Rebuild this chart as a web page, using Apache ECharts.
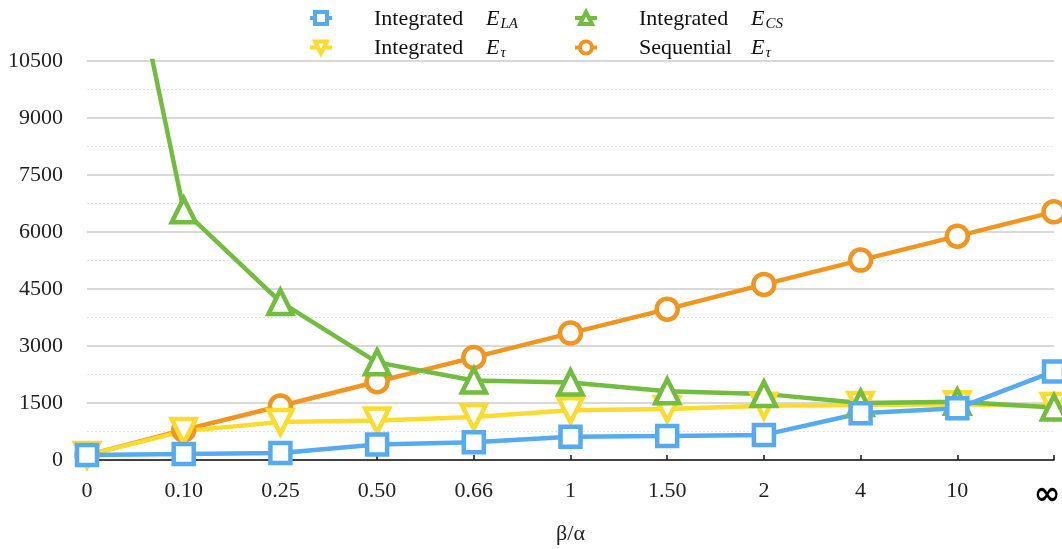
<!DOCTYPE html>
<html>
<head>
<meta charset="utf-8">
<script src="https://cdn.jsdelivr.net/npm/echarts@6/dist/echarts.min.js"></script>
<style>
html,body{margin:0;padding:0;background:#fff;}
#chart{width:1062px;height:549px;}
</style>
</head>
<body>
<div id="chart"></div>
<script>
const categories = ['0', '0.10', '0.25', '0.50', '0.66', '1', '1.50', '2', '4', '10', '∞'];
const yTicks = [0, 1500, 3000, 4500, 6000, 7500, 9000, 10500];
const seqTau = [130, 790, 1420, 2060, 2700, 3340, 3970, 4620, 5260, 5890, 6530];
const intTau = [130, 760, 1000, 1040, 1130, 1310, 1340, 1430, 1450, 1470, 1420];
const intCS  = [18800, 6570, 4160, 2570, 2090, 2040, 1810, 1740, 1500, 1530, 1380];
const intLA  = [130, 160, 185, 410, 470, 610, 630, 660, 1230, 1360, 2330];

const names = {
  la: 'Integrated E_LA',
  tau: 'Integrated E_τ',
  cs: 'Integrated E_CS',
  seq: 'Sequential E_τ'
};
const labelRich = {
  la: '{sp|}{t|Integrated}{e|E}{s|LA}',
  tau: '{sp|}{t|Integrated}{e|E}{s|τ}',
  cs: '{sp|}{t|Integrated}{e|E}{s|CS}',
  seq: '{sp|}{t|Sequential}{e|E}{s|τ}'
};
const nameToKey = {};
Object.keys(names).forEach(k => nameToKey[names[k]] = k);

const serif = '"Liberation Serif", "DejaVu Serif", serif';
const colors = { la: '#55aaf2', tau: '#fbdc2e', cs: '#72bd3e', seq: '#f0951f' };

const rich = {
  sp: { width: 37 },
  t: { width: 112, fontFamily: serif, fontSize: 22, color: '#111' },
  e: { fontFamily: serif, fontSize: 22, fontStyle: 'italic', color: '#111' },
  s: { fontFamily: serif, fontSize: 15, fontStyle: 'italic', color: '#111', padding: [10, 0, 0, 1] }
};

function mkSeries(key, data, symbol, rotate, size) {
  return {
    name: names[key],
    type: 'line',
    data: data,
    symbol: symbol,
    symbolRotate: rotate,
    symbolSize: size,
    clip: true,
    lineStyle: { color: colors[key], width: 4.5 },
    itemStyle: { color: '#fff', borderColor: colors[key], borderWidth: 4.5 },
    emphasis: { disabled: true },
    animation: false
  };
}

function legendCfg(data, left) {
  return {
    data: data,
    orient: 'vertical',
    left: left, top: 3,
    itemWidth: 22, itemHeight: 15, itemGap: 6,
    formatter: n => labelRich[nameToKey[n]],
    textStyle: { rich: rich, height: 23 },
    itemStyle: { borderWidth: 4 },
    lineStyle: { width: 4 }
  };
}

const chart = echarts.init(document.getElementById('chart'), null, { renderer: 'canvas' });
chart.setOption({
  backgroundColor: '#fff',
  animation: false,
  color: [colors.seq, colors.tau, colors.cs, colors.la],
  legend: [
    legendCfg([names.la, names.tau], 303),
    legendCfg([names.cs, names.seq], 568)
  ],
  grid: { left: 87, right: 8, top: 61, bottom: 89, containLabel: false, outerBoundsMode: 'none' },
  xAxis: {
    type: 'category',
    data: categories,
    boundaryGap: false,
    name: 'β/α',
    nameLocation: 'middle',
    nameGap: 63,
    nameTextStyle: { fontFamily: serif, fontSize: 22, color: '#222' },
    axisLine: { lineStyle: { color: '#111', width: 1.5 } },
    axisTick: { inside: true, length: 5, lineStyle: { color: '#111', width: 1.5 } },
    axisLabel: {
      margin: 20,
      fontFamily: serif, fontSize: 22, color: '#222',
      formatter: v => v === '∞' ? '{inf|∞}' : v,
      rich: { inf: { fontFamily: '"DejaVu Sans", sans-serif', fontSize: 32, fontWeight: 'bold', color: '#000', padding: [0, 14, 6, 0] } }
    },
    splitLine: { show: false }
  },
  yAxis: {
    type: 'value',
    min: yTicks[0],
    max: yTicks[yTicks.length - 1],
    interval: 1500,
    axisLine: { show: false },
    axisTick: { show: false },
    axisLabel: { margin: 24, fontFamily: serif, fontSize: 22, color: '#222', formatter: v => String(v) },
    splitLine: { lineStyle: { color: '#cccccc', width: 1.5 } },
    minorTick: { show: false, splitNumber: 2 },
    minorSplitLine: { show: true, lineStyle: { color: '#e2e2e2', width: 1, type: [2, 2] } }
  },
  series: [
    mkSeries('seq', seqTau, 'circle', 0, 21),
    mkSeries('tau', intTau, 'triangle', 180, 24),
    mkSeries('cs', intCS, 'triangle', 0, 24),
    mkSeries('la', intLA, 'rect', 0, 20)
  ]
});
</script>
</body>
</html>
